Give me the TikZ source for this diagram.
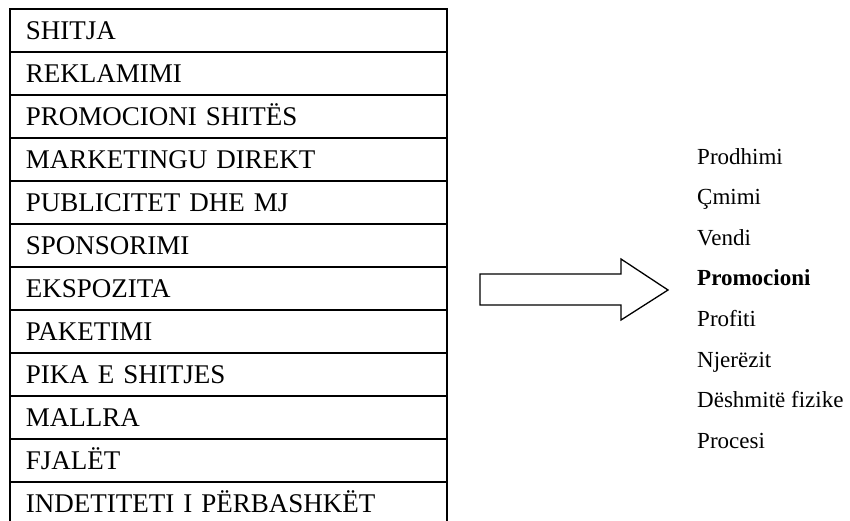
\documentclass[tikz,border=0pt]{standalone}
\usepackage{fontspec}
\setmainfont{Liberation Serif}
\tikzset{
  cell/.style={draw,line width=1.8pt,anchor=north west,minimum height=43pt,
    text width=405pt,inner xsep=16pt,inner ysep=0pt,text height=18pt,text depth=0pt,
    align=left,font=\fontsize{27}{30}\selectfont},
  item/.style={anchor=base west,inner sep=0pt,font=\fontsize{23}{26}\selectfont}
}
\begin{document}
\begin{tikzpicture}[x=1pt,y=-1pt]
\useasboundingbox (0,0) rectangle (850,520);
% left table
\foreach \lbl [count=\i] in {SHITJA,REKLAMIMI,PROMOCIONI SHITËS,MARKETINGU DIREKT,
  PUBLICITET DHE MJ,SPONSORIMI,EKSPOZITA,PAKETIMI,PIKA E SHITJES,MALLRA,FJALËT,
  INDETITETI I PËRBASHKËT}
  \node[cell] (r\i) at (9,{8+43*(\i-1)}) {\lbl};
% big arrow
\draw[line width=1.3pt,line join=miter]
  (480,274)--(621,274)--(621,259)--(668,290)--(621,320)--(621,305)--(480,305)--cycle;
% right list
\foreach \lbl [count=\i] in {Prodhimi,Çmimi,Vendi,{\textbf{Promocioni}},Profiti,
  Njerëzit,Dëshmitë fizike,Procesi}
  \node[item] (p\i) at (697,{164+40.6*(\i-1)}) {\lbl};
\end{tikzpicture}
\end{document}
